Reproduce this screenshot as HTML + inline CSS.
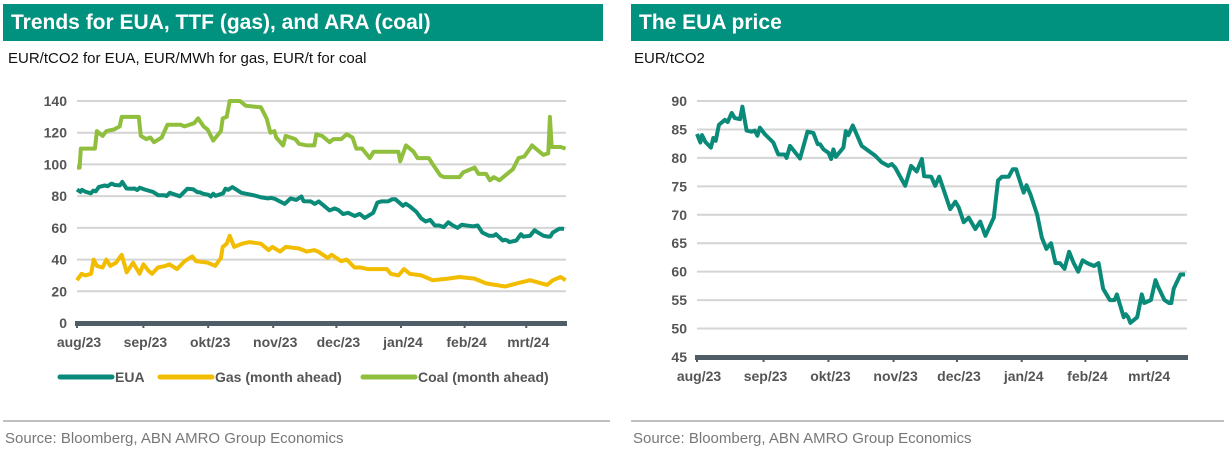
<!DOCTYPE html>
<html><head><meta charset="utf-8">
<style>
body{margin:0;width:1232px;height:455px;background:#fff;font-family:"Liberation Sans",Arial,sans-serif;overflow:hidden;position:relative}
.hdr{position:absolute;top:4px;height:37px;background:#00917f;color:#fff;font-weight:bold;font-size:21px;line-height:37px;padding-left:8px;box-sizing:border-box}
.sub{position:absolute;top:50px;font-size:15px;color:#111}
.rule{position:absolute;top:420px;height:2px;background:#c0c0c0}
.src{position:absolute;top:430px;font-size:15px;color:#777}
svg{position:absolute;left:0;top:0}
</style></head><body>
<div class="hdr" style="left:3px;width:600px">Trends for EUA, TTF (gas), and ARA (coal)</div>
<div class="hdr" style="left:631px;width:598px">The EUA price</div>
<div class="sub" style="left:8px">EUR/tCO2 for EUA, EUR/MWh for gas, EUR/t for coal</div>
<div class="sub" style="left:634px">EUR/tCO2</div>
<div class="rule" style="left:3px;width:607px"></div>
<div class="rule" style="left:631px;width:593px"></div>
<div class="src" style="left:5px">Source: Bloomberg, ABN AMRO Group Economics</div>
<div class="src" style="left:633px">Source: Bloomberg, ABN AMRO Group Economics</div>
<svg id="chart" width="1232" height="455"></svg>
<script>
const monthLabels=["aug/23","sep/23","okt/23","nov/23","dec/23","jan/24","feb/24","mrt/24"];
const monthDays=[0,33.4,66,98.7,130.5,163,195,226];
const euaDays=[0,1.7,2.5,4.2,7,8.2,9.4,11,14,15.4,17.4,19,21.6,22.8,24.9,27.4,29,30.3,31.6,34,38.3,40.8,44,45,46.7,51.7,55.5,58.4,60.6,61.8,63.5,66,67.3,68.5,69.7,73.5,74.7,76,78.2,82.7,89.4,92.8,96,97.8,99.5,104.5,107.5,110.3,112.9,114,117.6,119.6,121.6,127.1,129.7,131.4,133.9,136.4,139.7,142.2,144.8,149,151.1,153.1,156.5,158.5,160.2,164,165.4,167.4,170.8,173.1,175.4,177.7,180,182.2,184.5,186.8,189.1,191.4,193.6,195.9,199.3,201.6,203.9,207.3,209.6,210.8,214.2,215.3,216.5,217.6,221,223.3,224.5,227.9,230.2,231.3,234.7,237,238.1,239.3,242.7,245];
const euaVals=[84.2,82.7,84,82.8,81.8,83.5,83,85.8,86.7,86.3,87.9,87,86.8,89,84.8,84.6,84.8,83.9,85.3,84.2,82.7,80.6,80.6,80,82.1,79.9,84.6,84.4,82.4,82.4,81.5,80.9,79.8,81.5,80.2,81.8,84.7,84,85.7,82.1,80.4,79.2,78.6,78.9,78.3,75.1,78.6,77.6,79.8,76.8,76.7,75.1,76.7,71,72.3,71.3,68.7,69.5,67.5,68.8,66.3,69.5,76,76.7,76.7,78,78,73.9,75.2,73.6,70,66,64,65,61.5,61.5,60.5,63.5,61.5,60,62,61.5,61,61.5,57,55,55,56,52,52.5,52,51,52,56,54.5,55,58.5,57.5,55,54.5,54.5,57,59.5,59.5];
const coalDays=[0,1.3,1.9,9,10,12.9,14.8,18.6,21.5,22.5,31.1,32.1,34.9,36.9,38.8,42.6,45.5,52.2,54.1,58.9,60.9,63.7,65.7,68.5,72.4,73.3,75.3,76.8,82,84.9,92.5,95.4,97.3,99.3,100.2,103.7,105,109.8,111.7,115.6,119.4,120.4,123.3,127.1,129,132.9,135.7,138.6,140.5,143.4,147.3,149.2,161.7,162.6,165.5,169.3,171.3,177,179,182.8,184.7,192.4,194.3,200,202,205.8,207.7,209.7,212.5,215.4,219.3,222.1,225,227.9,228.9,230.8,234.6,237.1,237.9,238.8,243.3,245.8];
const coalVals=[98,98,110,110,121,118,121,122,124,130,130,118,116,117,114,117,125,125,124,126,129,124,122,115,121,129,130,140,140,137,136,129,120,121,117,112,118,116,113,112,112,119,118,114,116,116,119,117,110,110,104,108,108,102,112,108,104,104,100,93,92,92,95,98,94,94,90,92,90,93,97,104,105,110,112,110,106,107,130,111,111,110];
const gasDays=[0,2.3,4.2,7.1,8.4,10,12.9,14.8,16.7,19.6,22.5,25,28.2,31.5,33.4,35.9,37.8,40.7,44.5,46.5,50.3,54.1,58,59.9,65.7,69.5,72.4,73.3,75.3,76.8,79.1,83,86.8,92.5,96.4,98.3,102.1,105,111.7,115.6,119.4,121.3,126.1,128.1,132.9,135.7,139.6,142.5,146.3,155.9,157.8,161.7,164.5,167.4,173.2,178.9,186.6,192.4,200,205.8,215.4,221.2,227.9,230.8,236.5,239.4,243.3,245.8];
const gasVals=[27,31,30,31,40,36,35,40,36,38,43,32,38,31,37,33,31,35,36,37,34,39,42,39,38,36,41,48,50,55,48,50,51,50,46,48,45,48,47,45,46,45,41,43,39,40,35,35,34,34,31,30,34,31,30,27,28,29,28,25,23,25,27,26,24,27,29,27];
const leftTicks=[0,20,40,60,80,100,120,140];
const rightTicks=[45,50,55,60,65,70,75,80,85,90];

const NS="http://www.w3.org/2000/svg";
const svg=document.getElementById('chart');
function mk(tag,attrs,parent){const e=document.createElementNS(NS,tag);for(const k in attrs)e.setAttribute(k,attrs[k]);(parent||svg).appendChild(e);return e;}
const DMAX=246;
function drawChart(cfg){
  const g=mk('g',{});
  
  
  const xs=d=>cfg.x0+(d/DMAX)*(cfg.x1-cfg.x0);
  const ys=v=>cfg.yb-(v-cfg.vmin)/(cfg.vmax-cfg.vmin)*(cfg.yb-cfg.yt);
  cfg.ticks.forEach((t,i)=>{
    if(i>0){const l=mk('line',{x1:cfg.x0,x2:cfg.x1,y1:ys(t),y2:ys(t),stroke:'#d4d4d4','stroke-width':2},g);
    
    }
    const tx=mk('text',{x:cfg.x0-10,y:ys(t)+5,'text-anchor':'end','font-size':14,'font-weight':'bold',fill:'#555','font-family':'Liberation Sans, sans-serif'},g);
    tx.textContent=t;
    
    
  });
  cfg.series.forEach(s=>{
    let d='';s.days.forEach((dd,i)=>{d+=(i?'L':'M')+xs(dd).toFixed(1)+','+ys(s.vals[i]).toFixed(1);});
    const p=mk('path',{d:d,fill:'none',stroke:s.color,'stroke-width':4,'stroke-linejoin':'round'},g);
    
    
  });
  const ax=mk('rect',{x:cfg.x0-2,y:cfg.yb-2,width:cfg.x1-cfg.x0+3,height:5,fill:'#4f5d66'},g);
  
  
  monthDays.forEach((m,i)=>{
    mk('rect',{x:xs(m)-1,y:cfg.yb+2,width:2,height:3,fill:'#4f5d66'},g);
    const tx=mk('text',{x:xs(m)+2,y:cfg.yb+24,'text-anchor':'middle','font-size':14,'font-weight':'bold',fill:'#555','font-family':'Liberation Sans, sans-serif'},g);
    tx.textContent=monthLabels[i];
    
    
  });
}
drawChart({name:'left-chart',x0:77,x1:566,yt:101,yb:323,vmin:0,vmax:140,ticks:leftTicks,series:[
 {name:'coal-line',days:coalDays,vals:coalVals,color:'#8fbf3c'},
 {name:'eua-line',days:euaDays,vals:euaVals,color:'#0a8a78'},
 {name:'gas-line',days:gasDays,vals:gasVals,color:'#f2bd00'}]});
drawChart({name:'right-chart',x0:697,x1:1187,yt:101,yb:357,vmin:45,vmax:90,ticks:rightTicks,series:[
 {name:'eua-line',days:euaDays,vals:euaVals,color:'#0a8a78'}]});
const legend=[["EUA","#0a8a78",60],["Gas (month ahead)","#f2bd00",160],["Coal (month ahead)","#8fbf3c",363]];
legend.forEach(l=>{
  const g=mk('g',{});
  
  
  mk('line',{x1:l[2],x2:l[2]+52,y1:377,y2:377,stroke:l[1],'stroke-width':5,'stroke-linecap':'round'},g);
  const t=mk('text',{x:l[2]+55,y:382,'font-size':14,'font-weight':'bold',fill:'#555','font-family':'Liberation Sans, sans-serif'},g);
  t.textContent=l[0];
});
</script>
</body></html>
